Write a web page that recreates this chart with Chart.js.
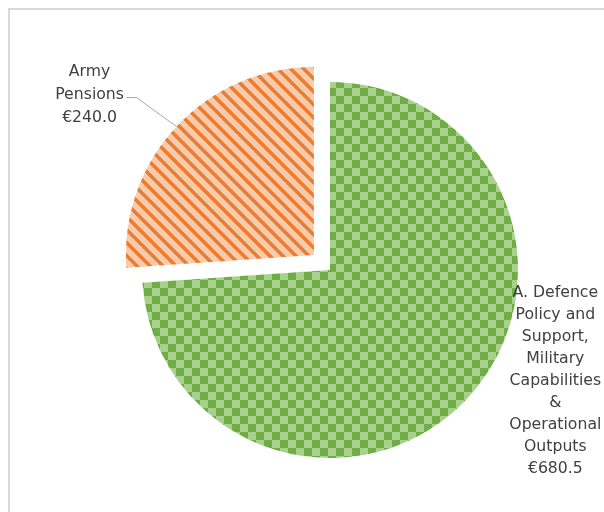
<!DOCTYPE html>
<html>
<head>
<meta charset="utf-8">
<script src="https://cdn.jsdelivr.net/npm/chart.js@4"></script>
<style>
  html, body { margin: 0; padding: 0; background: #fff; }
  #wrap { width: 604px; height: 512px; position: relative; }
</style>
</head>
<body>
<div id="wrap"><canvas id="budget-pie" width="604" height="512"></canvas></div>
<script>
// Spend by programme, € million
var categories = [
    ['A. Defence', 'Policy and', 'Support,', 'Military', 'Capabilities', '&', 'Operational', 'Outputs'],
    ['Army', 'Pensions']
];
var amounts = [680.5, 240.0];
var sliceOffsets = [0, 88];

var GREEN_DARK = '#70ad47', GREEN_LIGHT = '#a9d18e';
var ORANGE_DARK = '#ed7d31', ORANGE_LIGHT = '#f8cbad';
var LABEL_FONT = '15.7px "DejaVu Sans"';

function tile(size, paint) {
    var c = document.createElement('canvas');
    c.width = size; c.height = size;
    var g = c.getContext('2d');
    paint(g, size);
    return g.createPattern(c, 'repeat');
}

var ctx = document.getElementById('budget-pie').getContext('2d');

// large checkerboard
var checker = tile(16, function(g) {
    g.fillStyle = GREEN_LIGHT; g.fillRect(0, 0, 16, 16);
    g.fillStyle = GREEN_DARK;
    g.fillRect(0, 0, 8, 8); g.fillRect(8, 8, 8, 8);
});

// wide downward diagonal
var stripes = tile(13, function(g, n) {
    g.fillStyle = ORANGE_LIGHT; g.fillRect(0, 0, n, n);
    g.fillStyle = ORANGE_DARK;
    for (var y = 0; y < n; y++) {
        for (var x = 0; x < n; x++) {
            if (((x - y) % n + n) % n < 5) g.fillRect(x, y, 1, 1);
        }
    }
});

var framePlugin = {
    id: 'frame',
    beforeDraw: function(chart) {
        var c = chart.ctx;
        c.save();
        c.strokeStyle = '#d9d9d9';
        c.lineWidth = 2;
        c.beginPath();
        c.moveTo(9, 512); c.lineTo(9, 9); c.lineTo(604, 9);
        c.stroke();
        c.restore();
    }
};

function arcPoint(arc, shift) {
    var p = arc.getProps(['x', 'y', 'startAngle', 'endAngle', 'outerRadius'], true);
    var mid = (p.startAngle + p.endAngle) / 2;
    return {
        x: p.x + Math.cos(mid) * (p.outerRadius + shift),
        y: p.y + Math.sin(mid) * (p.outerRadius + shift),
        mid: mid
    };
}

function drawLines(c, lines, cx, cy, lh) {
    var top = cy - (lines.length - 1) * lh / 2;
    lines.forEach(function(s, i) { c.fillText(s, cx, top + i * lh); });
}

var labelPlugin = {
    id: 'sliceLabels',
    afterDraw: function(chart) {
        var c = chart.ctx;
        var arcs = chart.getDatasetMeta(0).data;
        c.save();
        c.font = LABEL_FONT;
        c.fillStyle = '#404040';
        c.textAlign = 'center';
        c.textBaseline = 'middle';

        // main programme label sits to the right of the slice
        var g = arcPoint(arcs[0], 0);
        var gl = categories[0].concat(['€' + amounts[0].toFixed(1)]);
        drawLines(c, gl, g.x + 88, g.y - 17, 22);

        // pensions label with leader line
        var o = arcPoint(arcs[1], sliceOffsets[1] / 4);
        var elbow = { x: o.x - 40, y: o.y - 29 };
        c.strokeStyle = '#a6a6a6';
        c.lineWidth = 1;
        c.beginPath();
        c.moveTo(o.x, o.y); c.lineTo(elbow.x, elbow.y); c.lineTo(elbow.x - 10, elbow.y);
        c.stroke();
        var ol = categories[1].concat(['€' + amounts[1].toFixed(1)]);
        drawLines(c, ol, elbow.x - 47, elbow.y - 3, 23);
        c.restore();
    }
};

new Chart(ctx, {
    type: 'pie',
    data: {
        labels: categories.map(function(l) { return l.join(' '); }),
        datasets: [{
            data: amounts,
            backgroundColor: [checker, stripes],
            borderWidth: 0,
            offset: sliceOffsets,
            hoverOffset: 0
        }]
    },
    options: {
        responsive: false,
        animation: false,
        radius: 188,
        layout: { padding: { left: 56, right: 0, top: 28, bottom: 0 } },
        plugins: {
            legend: { display: false },
            tooltip: { enabled: false }
        }
    },
    plugins: [framePlugin, labelPlugin]
});
</script>
</body>
</html>
